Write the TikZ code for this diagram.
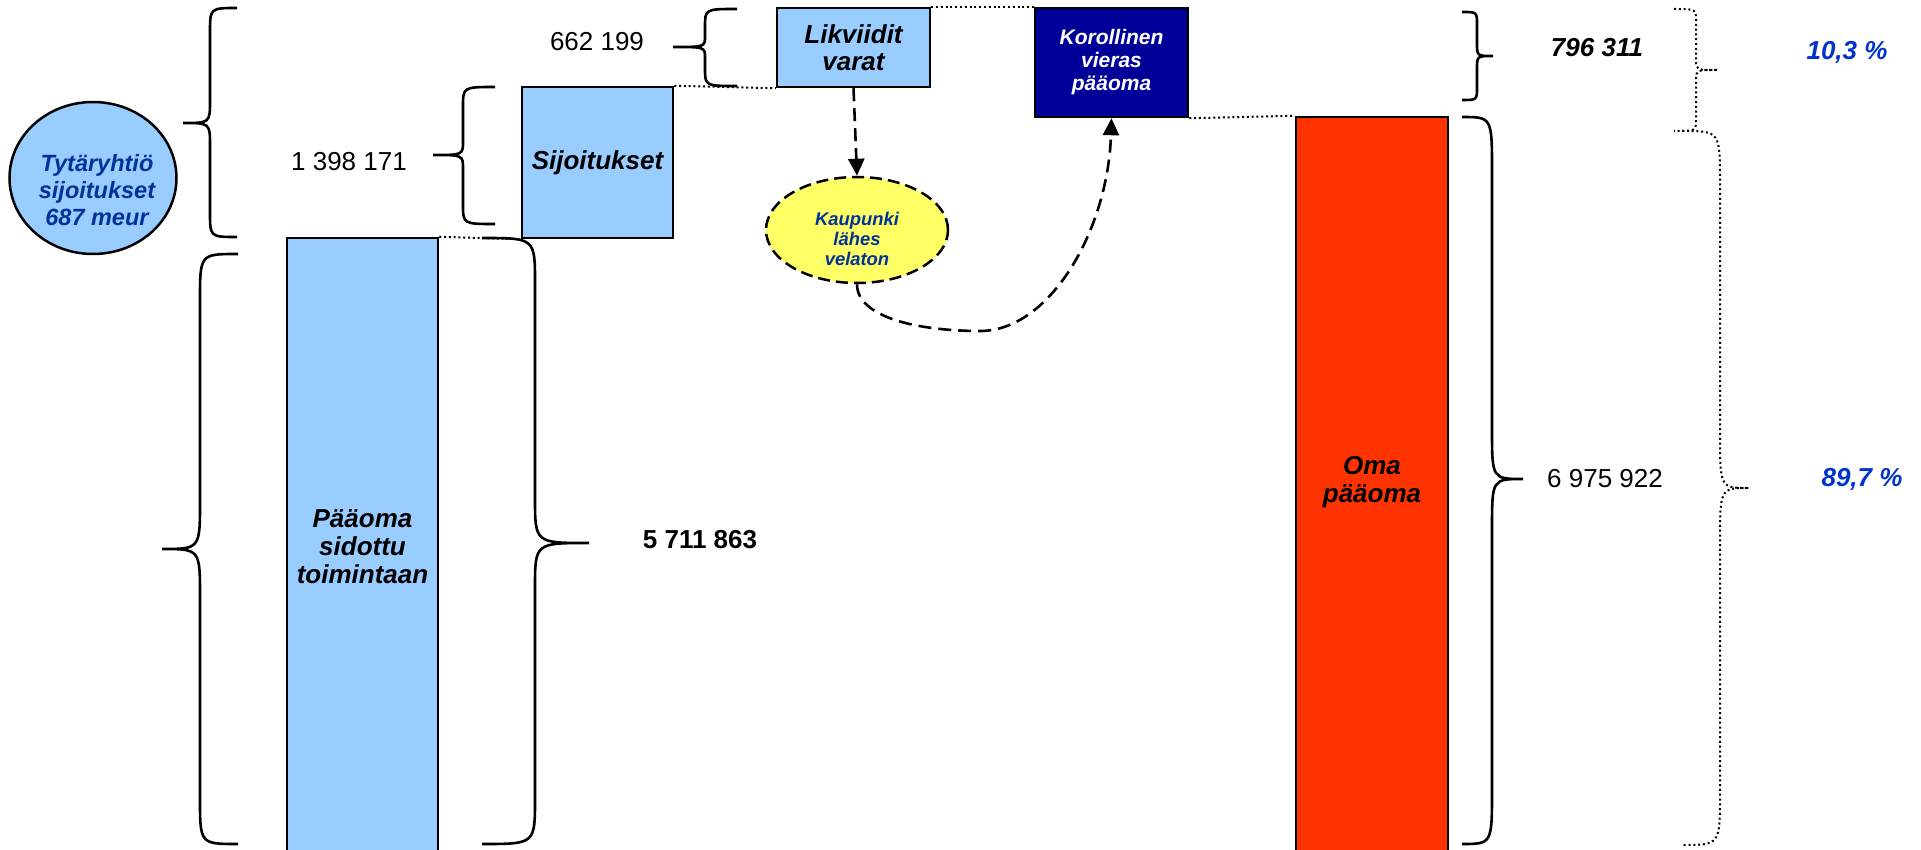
\documentclass[tikz,border=0pt]{standalone}
\usepackage{fontspec}
\setmainfont{Liberation Sans}
\usetikzlibrary{arrows.meta,shapes.geometric}
\definecolor{lblue}{HTML}{99CCFF}
\definecolor{navyfill}{HTML}{000099}
\definecolor{omared}{HTML}{FF3300}
\definecolor{yelfill}{HTML}{FFFF66}
\definecolor{txtblue}{HTML}{003399}
\definecolor{pctblue}{HTML}{0033CC}
\newcommand{\fbi}[2]{\fontsize{#1}{#2}\selectfont\bfseries\itshape}
\newcommand{\freg}[2]{\fontsize{#1}{#2}\selectfont}
% #1 style, #2 end x, #3 middle x, #4 tip x, #5 top y, #6 bottom y, #7 tip y, #8 end radius, #9 tip radius
\newcommand{\drawcurly}[9]{%
  \draw[#1] (#2,#5) .. controls (#3,#5) .. (#3,{#5+#8}) -- (#3,{#7-#9})
    .. controls (#3,#7) .. (#4,#7) .. controls (#3,#7) .. (#3,{#7+#9})
    -- (#3,{#6-#8}) .. controls (#3,#6) .. (#2,#6);}
\tikzset{
  boxst/.style={draw=black, line width=2.5pt, inner sep=0pt, align=center},
  dotline/.style={line width=2pt, dash pattern=on 2pt off 2.8pt},
  bst/.style={line width=2.6pt},
  dbst/.style={line width=2pt, dash pattern=on 2pt off 2.8pt},
  dasharrow/.style={line width=2.6pt, dash pattern=on 13pt off 7pt,
    -{Triangle[length=17pt,width=16pt]}},
}
\begin{document}
\begin{tikzpicture}[x=1pt,y=-1pt]
\useasboundingbox (0,0) rectangle (1921,850);

% boxes and bars
\node[boxst, fill=lblue, minimum width=151pt, minimum height=618pt, font=\fbi{26}{28}] (bar) at (362.5,547) {Pääoma\\sidottu\\toimintaan};
\node[boxst, fill=lblue, minimum width=151pt, minimum height=151pt, font=\fbi{26}{28}] (sij) at (597.5,162.5) {Sijoitukset};
\node[boxst, fill=lblue, minimum width=153pt, minimum height=79pt, font=\fbi{26}{27}] (lik) at (853.5,47.5) {Likviidit\\varat};
\node[boxst, fill=navyfill, text=white, minimum width=153pt, minimum height=109pt, font=\fbi{21}{23}] (kor) at (1111.5,62.5) {Korollinen\\vieras\\pääoma};
\node[boxst, fill=omared, minimum width=152pt, minimum height=739pt] (oma) at (1372,486.5) {};
\node[font=\fbi{26}{28.5}, align=center] (omat) at (1372,482) {Oma\\pääoma};

% ellipses
\node[ellipse, draw, line width=2.5pt, fill=lblue, minimum width=167pt, minimum height=152pt, inner sep=0pt] (tyt) at (93,178) {};
\node[font=\fbi{23.5}{27}, text=txtblue, align=center] (tytt) at (97,190) {Tytäryhtiö\\sijoitukset\\687 meur};
\node[ellipse, draw, line width=2.5pt, dash pattern=on 12pt off 6pt, fill=yelfill, minimum width=182pt, minimum height=106pt, inner sep=0pt] (kau) at (857,230) {};
\node[font=\fbi{18.4}{20}, text=txtblue, align=center] (kaut) at (857,239) {Kaupunki\\lähes\\velaton};

% numbers
\node[font=\freg{26}{28}] (n1) at (349,162) {1 398 171};
\node[font=\freg{26}{28}] (n2) at (597,42) {662 199};
\node[font=\freg{26}{28}\bfseries] (n3) at (700,540) {5 711 863};
\node[font=\fbi{26}{28}] (n4) at (1597,48) {796 311};
\node[font=\freg{26}{28}] (n5) at (1605,479) {6 975 922};
\node[font=\fbi{26}{28}, text=pctblue] (p1) at (1847,52) {10,3 \%};
\node[font=\fbi{26}{28}, text=pctblue] (p2) at (1862,479) {89,7 \%};

% dotted level lines
\draw[dotline] (bar.north east) -- (sij.south west);
\draw[dotline] (sij.north east) -- (lik.south west);
\draw[dotline] (lik.north east) -- (kor.north west);
\draw[dotline] (kor.south east) -- (oma.north west);

% dashed arrows
\draw[dasharrow] (lik.south) -- (kau.north);
\draw[dasharrow] (kau.south) .. controls (857,318) and (920,331) .. (980,331)
  .. controls (1050,331) and (1108,230) .. (kor.south);

% braces
\drawcurly{bst}{237}{210}{183}{8}{237}{123}{25}{23}
\drawcurly{bst}{238}{200}{162}{254}{844}{549}{46}{48}
\drawcurly{bst}{482}{535}{589}{238}{844}{543}{45}{45}
\drawcurly{bst}{495}{463}{433}{87}{224}{155}{20}{14}
\drawcurly{bst}{737}{705}{673}{9}{86}{47}{18}{11}
\drawcurly{bst}{1462}{1477}{1493}{12}{100}{56}{13}{13}
\drawcurly{bst}{1462}{1492}{1523}{117}{844}{479}{55}{50}
\drawcurly{dbst}{1674}{1696}{1718}{9}{131}{70}{12}{10}
\drawcurly{dbst}{1682}{1720}{1749}{131}{845}{488}{52}{55}
\end{tikzpicture}
\end{document}
